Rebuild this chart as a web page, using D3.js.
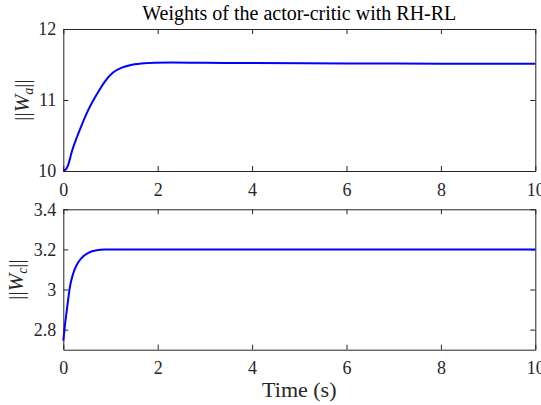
<!DOCTYPE html>
<html>
<head>
<meta charset="utf-8">
<script src="https://cdn.jsdelivr.net/npm/d3@7"></script>
<style>
  body { margin: 0; background: #fff; }
  svg { display: block; }
</style>
</head>
<body>
<div class="chart"></div>
<script>
// values
var timeA = [0, 0.05, 0.1, 0.18, 0.35, 0.53, 0.71, 0.88, 1.06, 1.24, 1.41, 1.66, 1.94, 2.3, 3, 4, 6, 8, 10];
var weightA = [10.01, 10.02, 10.08, 10.27, 10.58, 10.86, 11.08, 11.26, 11.39, 11.455, 11.49, 11.515, 11.525, 11.528, 11.524, 11.52, 11.515, 11.512, 11.51];

var timeC = [0, 0.035, 0.07, 0.106, 0.14, 0.21, 0.28, 0.39, 0.53, 0.71, 0.88, 1.2, 2, 4, 6, 8, 10];
var weightC = [2.745, 2.823, 2.889, 2.956, 3.013, 3.08, 3.121, 3.158, 3.183, 3.196, 3.199, 3.2, 3.199, 3.199, 3.199, 3.199, 3.199];

var xTicks = [0, 2, 4, 6, 8, 10];
var yTicksA = [10, 11, 12];
var yTicksC = [2.8, 3, 3.2, 3.4];

var W = 541, H = 405;
var left = 63.3, right = 535.3;
var serif = "'Liberation Serif'";

var svg = d3.select(".chart")
  .append("svg")
    .attr("width", W)
    .attr("height", H);

var x = d3.scaleLinear()
  .domain([0, 10])
  .range([left, right]);

function panel(top, bottom, yDomain, yTicks, times, vals, sub, labelX) {
  var y = d3.scaleLinear()
    .domain(yDomain)
    .range([bottom, top]);

  var g = svg.append("g");

  // bottom axis with labels, ticks pointing in
  g.append("g")
    .attr("transform", "translate(0," + bottom + ")")
    .call(d3.axisBottom(x).tickValues(xTicks).tickFormat(d3.format("d"))
      .tickSizeInner(-5).tickSizeOuter(0).tickPadding(12));
  // top border
  g.append("g")
    .attr("transform", "translate(0," + top + ")")
    .call(d3.axisTop(x).tickValues(xTicks).tickFormat("")
      .tickSizeInner(-5).tickSizeOuter(0));
  // left axis
  g.append("g")
    .attr("transform", "translate(" + left + ",0)")
    .call(d3.axisLeft(y).tickValues(yTicks).tickFormat(d3.format(""))
      .tickSizeInner(-5).tickSizeOuter(0).tickPadding(7));
  // right border
  g.append("g")
    .attr("transform", "translate(" + right + ",0)")
    .call(d3.axisRight(y).tickValues(yTicks).tickFormat("")
      .tickSizeInner(-5).tickSizeOuter(0));

  g.selectAll(".tick text")
    .style("font-family", serif)
    .style("font-size", "18px")
    .attr("fill", "#262626");
  g.selectAll(".domain, .tick line")
    .attr("stroke", "#262626")
    .attr("stroke-width", 1);

  var line = d3.line()
    .x(function(d, i) { return x(times[i]); })
    .y(function(d) { return y(d); })
    .curve(d3.curveMonotoneX);

  g.append("path")
    .datum(vals)
    .attr("fill", "none")
    .attr("stroke", "#0000ff")
    .attr("stroke-width", 2)
    .attr("d", line);

  // y label ||W_sub||
  var lab = g.append("text")
    .attr("transform", "translate(" + labelX + "," + ((top + bottom) / 2) + ")rotate(-90)")
    .attr("text-anchor", "middle")
    .style("font-family", serif)
    .style("font-size", "21px")
    .attr("fill", "#262626");
  lab.append("tspan").text("||");
  lab.append("tspan").style("font-style", "italic").text("W");
  lab.append("tspan").style("font-style", "italic").style("font-size", "14px")
    .attr("dy", 4).text(sub);
  lab.append("tspan").attr("dy", -4).text("||");
}

panel(29, 171, [10, 12], yTicksA, timeA, weightA, "a", 29);
panel(209.3, 349.7, [2.7, 3.4], yTicksC, timeC, weightC, "c", 23);

svg.append("text")
  .attr("x", (left + right) / 2)
  .attr("y", 20)
  .attr("text-anchor", "middle")
  .style("font-family", serif)
  .style("font-size", "20px")
  .attr("fill", "#000")
  .text("Weights of the actor-critic with RH-RL");

svg.append("text")
  .attr("x", (left + right) / 2)
  .attr("y", 397)
  .attr("text-anchor", "middle")
  .style("font-family", serif)
  .style("font-size", "22px")
  .attr("fill", "#262626")
  .text("Time (s)");
</script>
</body>
</html>
